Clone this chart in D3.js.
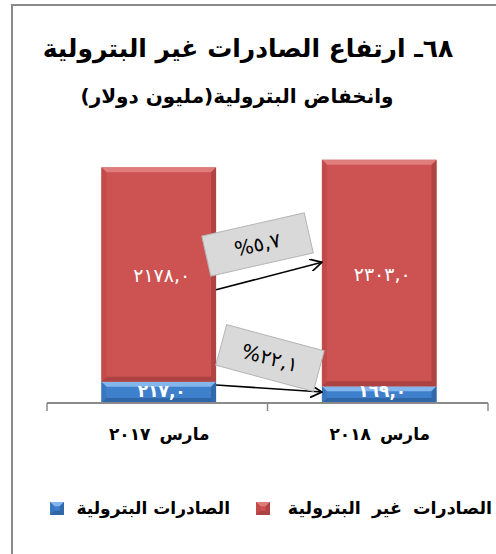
<!DOCTYPE html>
<html><head><meta charset="utf-8">
<script src="https://cdn.jsdelivr.net/npm/d3@7"></script>
<style>
html,body{margin:0;padding:0;background:#fff;}
svg{display:block;}
text{font-family:"DejaVu Sans",sans-serif;}
</style></head>
<body>
<svg id="c" width="496" height="554"></svg>
<script>
// ---- data ----
const categories = ["مارس ٢٠١٧", "مارس ٢٠١٨"];
const seriesNames = ["الصادرات غير البترولية", "الصادرات البترولية"];
const oilValues = [217.0, 169.0];
const nonOilValues = [2178.0, 2303.0];
const oilLabels = ["٢١٧,٠", "١٦٩,٠"];
const nonOilLabels = ["٢١٧٨,٠", "٢٣٠٣,٠"];
const changeLabels = ["%٥,٧", "%٢٢,١"];
const arrowFromValues = [1150, 183];   // anchor values on first bar
const arrowToValues = [1430, 112];     // anchor values on second bar
const titleLines = ["٦٨ـ ارتفاع الصادرات غير البترولية", "وانخفاض البترولية(مليون دولار)"];

// ---- setup ----
const svg = d3.select("#c");
const defs = svg.append("defs");
defs.append("marker").attr("id","arr").attr("viewBox","0 0 12 12").attr("refX",11).attr("refY",6)
  .attr("markerWidth",13).attr("markerHeight",13).attr("markerUnits","userSpaceOnUse").attr("orient","auto")
  .append("path").attr("d","M0,0 L11,6 L0,12").attr("fill","none").attr("stroke","#000").attr("stroke-width",1.6);

// frame
svg.append("rect").attr("x",12).attr("y",5).attr("width",500).attr("height",560)
  .attr("fill","none").attr("stroke","#8a8a8a").attr("stroke-width",2);

// title
svg.append("text").attr("x",248).attr("y",57).attr("text-anchor","middle").attr("direction","rtl")
  .attr("font-size",25).attr("font-weight","bold").attr("fill","#000").text(titleLines[0]);
svg.append("text").attr("x",237).attr("y",103).attr("text-anchor","middle").attr("direction","rtl")
  .attr("font-size",20).attr("font-weight","bold").attr("fill","#000").text(titleLines[1]);

// scales
const x = d3.scaleBand().domain(categories).range([47, 488]).padding(0);
const y = d3.scaleLinear().domain([0, 2500]).range([403, 157]);
const barW = x.bandwidth() * 0.52;
const bx = c => x(c) + x.bandwidth()/2 - barW/2 + 1.5;

const colors = {
  red: {main:"#cc5351", light:"#e08583", dark:"#a43f3d", side:"#c24b49"},
  blue:{main:"#3f80cc", light:"#8fc0f2", dark:"#2c5f9c", side:"#3a76bd"}
};

function bevelBar(g, x0, y0, w, h, col){
  const b = Math.min(5, h/3);
  g.append("rect").attr("x",x0).attr("y",y0).attr("width",w).attr("height",h).attr("fill",col.main);
  g.append("path").attr("d",`M${x0},${y0} L${x0+w},${y0} L${x0+w-b},${y0+b} L${x0+b},${y0+b}Z`).attr("fill",col.light).attr("opacity",0.85);
  g.append("path").attr("d",`M${x0},${y0} L${x0+b},${y0+b} L${x0+b},${y0+h-b} L${x0},${y0+h}Z`).attr("fill",col.side);
  g.append("path").attr("d",`M${x0+w},${y0} L${x0+w},${y0+h} L${x0+w-b},${y0+h-b} L${x0+w-b},${y0+b}Z`).attr("fill",col.dark).attr("opacity",0.7);
  g.append("path").attr("d",`M${x0},${y0+h} L${x0+w},${y0+h} L${x0+w-b},${y0+h-b} L${x0+b},${y0+h-b}Z`).attr("fill",col.dark).attr("opacity",0.8);
}

const gBars = svg.append("g");
categories.forEach((c,i)=>{
  const x0 = bx(c);
  bevelBar(gBars, x0, y(oilValues[i]), barW, y(0)-y(oilValues[i]), colors.blue);
  const top = oilValues[i] + nonOilValues[i];
  bevelBar(gBars, x0, y(top), barW, y(oilValues[i]) - y(top), colors.red);
  gBars.append("text").attr("x", x0+barW/2 + 3).attr("y", (y(top)+y(oilValues[i]))/2 + 8)
    .attr("text-anchor","middle").attr("fill","#fff").attr("font-size",19).attr("letter-spacing",7)
    .text(nonOilLabels[i]);
  gBars.append("text").attr("x", x0+barW/2 + 3).attr("y", y(0) - 6)
    .attr("text-anchor","middle").attr("fill","#fff").attr("font-size",17).attr("font-weight","bold").attr("letter-spacing",7)
    .text(oilLabels[i]);
});

// axis
const gAxis = svg.append("g");
gAxis.append("line").attr("x1",x.range()[0]).attr("x2",x.range()[1]).attr("y1",y(0)).attr("y2",y(0))
  .attr("stroke","#8a8a8a").attr("stroke-width",2);
const bounds = categories.map(c=>x(c)).concat([x.range()[1]]);
bounds.forEach(b=>{
  gAxis.append("line").attr("x1",b).attr("x2",b).attr("y1",y(0)).attr("y2",y(0)+8)
    .attr("stroke","#8a8a8a").attr("stroke-width",1.5);
});
categories.forEach(c=>{
  gAxis.append("text").attr("x",x(c)+x.bandwidth()/2+2).attr("y",440).attr("text-anchor","middle")
    .attr("direction","rtl").attr("font-size",17).attr("font-weight","bold").attr("word-spacing",3).text(c);
});

// arrows and change boxes
const leftEdge = bx(categories[0]) + barW;
const rightEdge = bx(categories[1]);
const boxes = [
  {cx:257.5, cy:244.5, w:105, h:41, a:-12.7},
  {cx:270, cy:358, w:101, h:42, a:15}
];
const gAnn = svg.append("g");
changeLabels.forEach((lab,i)=>{
  gAnn.append("line").attr("x1",leftEdge).attr("y1",y(arrowFromValues[i]))
    .attr("x2",rightEdge).attr("y2",y(arrowToValues[i]))
    .attr("stroke","#000").attr("stroke-width",1.6).attr("marker-end","url(#arr)");
});
changeLabels.forEach((lab,i)=>{
  const b = boxes[i];
  const g = gAnn.append("g").attr("transform",`translate(${b.cx},${b.cy}) rotate(${b.a})`);
  g.append("rect").attr("x",-b.w/2).attr("y",-b.h/2).attr("width",b.w).attr("height",b.h)
    .attr("fill","#d9d9d9").attr("stroke","#b5b5b5").attr("stroke-width",1);
  g.append("text").attr("x",0).attr("y",7).attr("text-anchor","middle").attr("font-size",20)
    .attr("letter-spacing",1.5).text(lab);
});

// legend
const gLeg = svg.append("g");
const legItems = [
  {name: seriesNames[0], col: colors.red, mx:256, tx:492, ws:5, fs:17.5},
  {name: seriesNames[1], col: colors.blue, mx:50, tx:230, ws:0, fs:17}
];
legItems.forEach(it=>{
  bevelBar(gLeg, it.mx, 502, 14, 13, it.col);
  gLeg.append("text").attr("x",it.tx).attr("y",514).attr("text-anchor","start").attr("direction","rtl")
    .attr("font-size",it.fs).attr("font-weight","bold").attr("word-spacing",it.ws).text(it.name);
});
</script>
</body></html>
